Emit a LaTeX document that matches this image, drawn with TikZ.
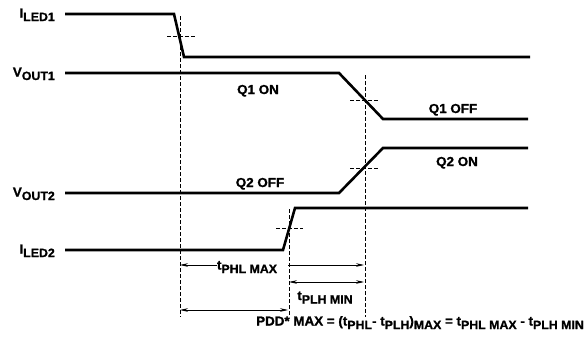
\documentclass[tikz,border=0pt]{standalone}
\usepackage{fontspec}
\setmainfont{Liberation Sans}[FakeStretch=1.03,BoldFeatures={FakeBold=1.2}]
\usetikzlibrary{arrows.meta}
\newcommand{\sbs}[1]{\raisebox{-3.5pt}{\fontsize{12}{12}\selectfont #1}}
\begin{document}
\begin{tikzpicture}[x=1pt,y=-1pt,
  wave/.style={line width=2.6pt,line join=miter,line cap=butt},
  guide/.style={line width=0.6pt,dash pattern=on 3.5pt off 2.5pt},
  lbl/.style={font=\fontsize{13}{13}\selectfont\bfseries,inner sep=0pt},
  dimboth/.style={line width=0.7pt,{Stealth[length=8pt,width=3.6pt]}-{Stealth[length=8pt,width=3.6pt]}},
  dimleft/.style={line width=0.7pt,{Stealth[length=8pt,width=3.6pt]}-},
  dimright/.style={line width=0.7pt,-{Stealth[length=8pt,width=3.6pt]}}]
\useasboundingbox (0,0) rectangle (584,343);

% signal names
\node[lbl,anchor=base east] (nI1) at (55,17.5) {I\sbs{LED1}};
\node[lbl,anchor=base east] (nV1) at (55,76.5) {V\sbs{OUT1}};
\node[lbl,anchor=base east] (nV2) at (55,196.5) {V\sbs{OUT2}};
\node[lbl,anchor=base east] (nI2) at (55,253.5) {I\sbs{LED2}};

% waveform points
\coordinate (a0) at (65,14);  \coordinate (a1) at (174,14);
\coordinate (a2) at (184,57); \coordinate (a3) at (530,57);
\coordinate (b0) at (65,73);  \coordinate (b1) at (339,73);
\coordinate (b2) at (383,119);\coordinate (b3) at (528,119);
\coordinate (c0) at (65,193); \coordinate (c1) at (339,193);
\coordinate (c2) at (383,148);\coordinate (c3) at (528,148);
\coordinate (d0) at (65,250); \coordinate (d1) at (283,250);
\coordinate (d2) at (295,208);\coordinate (d3) at (528,208);

\draw[wave] (a0) -- (a1) -- (a2) -- (a3);
\draw[wave] (b0) -- (b1) -- (b2) -- (b3);
\draw[wave] (c0) -- (c1) -- (c2) -- (c3);
\draw[wave] (d0) -- (d1) -- (d2) -- (d3);

% state labels
\node[lbl,anchor=base] (q1on)  at (258,94)  {Q1 ON};
\node[lbl,anchor=base] (q1off) at (453,113) {Q1 OFF};
\node[lbl,anchor=base] (q2on)  at (457,166) {Q2 ON};
\node[lbl,anchor=base] (q2off) at (260,187) {Q2 OFF};

% guide lines (vertical)
\coordinate (g1t) at (180,16);  \coordinate (g1b) at (180,317);
\coordinate (g2t) at (365,75);  \coordinate (g2b) at (365,317);
\coordinate (g3t) at (289,209); \coordinate (g3b) at (289,317);
\draw[guide] (g1t) -- (g1b);
\draw[guide] (g2t) -- (g2b);
\draw[guide] (g3t) -- (g3b);
% 50% crossing marks
\coordinate (h1l) at (167,36);  \coordinate (h1r) at (195,36);
\coordinate (h2l) at (350,100); \coordinate (h2r) at (378,100);
\coordinate (h3l) at (350,168); \coordinate (h3r) at (378,168);
\coordinate (h4l) at (276,228); \coordinate (h4r) at (303,228);
\draw[guide] (h1l) -- (h1r);
\draw[guide] (h2l) -- (h2r);
\draw[guide] (h3l) -- (h3r);
\draw[guide] (h4l) -- (h4r);

% dimension arrows
\node[lbl,anchor=base] (tphl) at (247,269.5) {t\sbs{PHL MAX}};
\coordinate (p1) at (180,265); \coordinate (p2) at (288,265); \coordinate (p3) at (364,265);
\draw[dimleft] (p1) -- (tphl.west |- p1);
\draw[dimright] (p2) -- (p3);

\coordinate (r1) at (289,282); \coordinate (r2) at (364,282);
\draw[dimboth] (r1) -- (r2);
\node[lbl,anchor=base] (tplh) at (325,300) {t\sbs{PLH MIN}};

\coordinate (s1) at (180,310); \coordinate (s2) at (288,310);
\draw[dimboth] (s1) -- (s2);

\node[lbl,anchor=base west] (pdd) at (256,325.5)
  {PDD* MAX = (t\sbs{PHL}- t\sbs{PLH})\sbs{MAX} = t\sbs{PHL MAX} - t\sbs{PLH MIN}};
\end{tikzpicture}
\end{document}
